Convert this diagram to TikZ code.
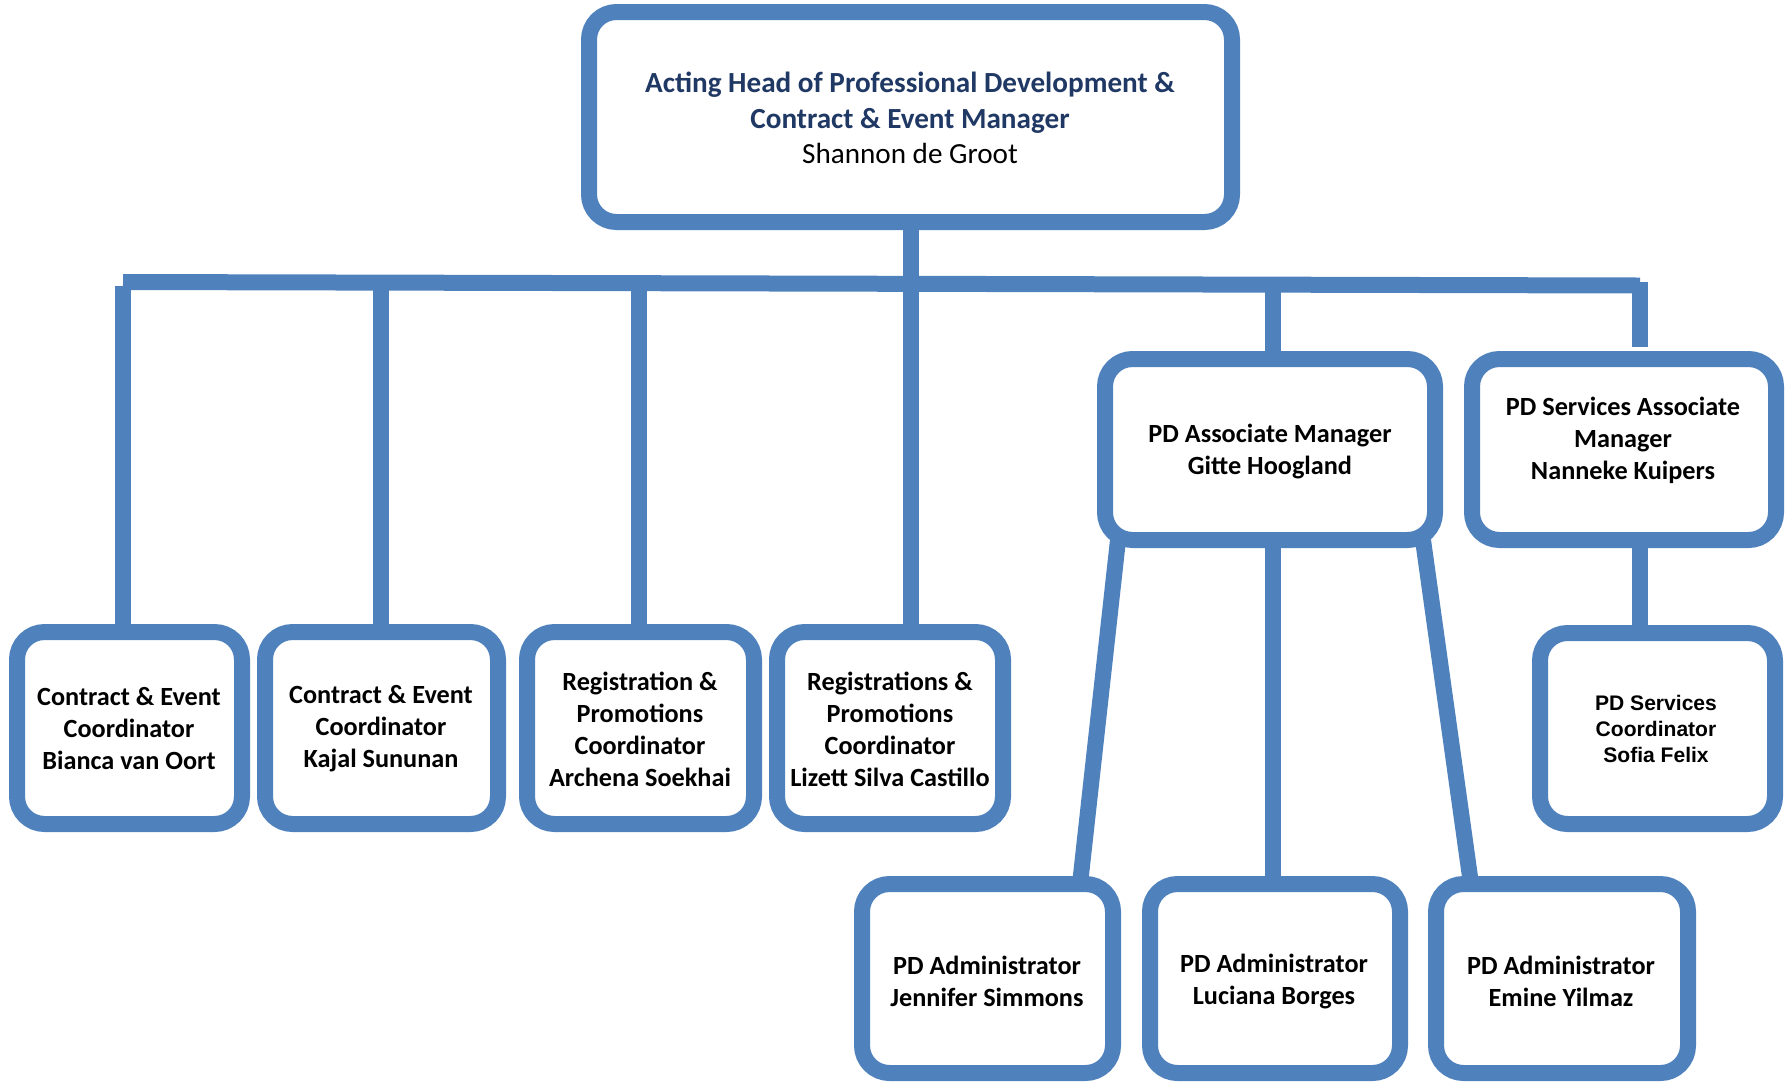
\documentclass[tikz,border=0pt]{standalone}
\usepackage{fontspec}
\setmainfont{Carlito}
\newfontfamily\arialfont{Liberation Sans}
\usetikzlibrary{fit,calc}
\definecolor{boxblue}{RGB}{79,129,189}
\definecolor{titleblue}{RGB}{31,56,100}
\pgfdeclarelayer{bg}
\pgfsetlayers{bg,main}
\begin{document}
\begin{tikzpicture}[x=0.4pt,y=-0.4pt,
  box/.style={draw=boxblue, line width=6.4pt, rounded corners=11pt, fill=white,
    inner sep=0pt, outer sep=0pt},
  txt/.style={inner sep=0pt, align=center, text=black,
    font=\bfseries\fontsize{10.5}{12.8}\selectfont},
  link/.style={draw=boxblue, line width=6.4pt}]
\useasboundingbox (0,0) rectangle (1792,1081);

% boxes
\node[box, fit={(589,12)(1232,222)}] (head) {};
\node[box, fit={(1105,359)(1435,540)}] (pdam) {};
\node[box, fit={(1472,359)(1776,540)}] (pdsam) {};
\node[box, fit={(17,632)(242,824)}] (bia) {};
\node[box, fit={(265,632)(498,824)}] (kaj) {};
\node[box, fit={(527,632)(754,824)}] (arc) {};
\node[box, fit={(777,632)(1003,824)}] (liz) {};
\node[box, fit={(1540,633)(1775,824)}] (sof) {};
\node[box, fit={(862,884)(1113,1073)}] (jen) {};
\node[box, fit={(1150,884)(1400,1073)}] (luc) {};
\node[box, fit={(1436,884)(1688,1073)}] (emi) {};

% texts
\node[txt, font=\fontsize{11.67}{14.2}\selectfont] (headtext) at (910,118)
  {{\bfseries\color{titleblue}Acting Head of Professional Development \&}\\
   {\bfseries\color{titleblue}Contract \& Event Manager}\\
   Shannon de Groot};
\node[txt] (pdamtext) at (1270,452) {PD Associate Manager\\Gitte Hoogland};
\node[txt] (pdsamtext) at (1623,440.5) {PD Services Associate\\Manager\\Nanneke Kuipers};
\node[txt] (biatext) at (129,729) {Contract \& Event\\Coordinator\\Bianca van Oort};
\node[txt] (kajtext) at (381,729) {Contract \& Event\\Coordinator\\Kajal Sununan};
\node[txt] (arctext) at (640,729) {Registration \&\\Promotions\\Coordinator\\Archena Soekhai};
\node[txt] (liztext) at (890,729) {Registrations \&\\Promotions\\Coordinator\\Lizett Silva Castillo};
\node[txt, font=\arialfont\bfseries\fontsize{8.43}{10.3}\selectfont] (softext) at (1656,729)
  {PD Services\\Coordinator\\Sofia Felix};
\node[txt] (jentext) at (987,981) {PD Administrator\\Jennifer Simmons};
\node[txt] (luctext) at (1274,981) {PD Administrator\\Luciana Borges};
\node[txt] (emitext) at (1561,981) {PD Administrator\\Emine Yilmaz};

% bus coordinates
\coordinate (busL) at (123,282);
\coordinate (busR) at (1640,285.5);
\coordinate (j1) at (123,286);
\coordinate (j2) at (380.6,282.6);
\coordinate (j3) at (639,283.2);
\coordinate (j5) at (1273,284.7);
\coordinate (j6) at (1640,282);
\coordinate (j6end) at (1640,347);

\begin{pgfonlayer}{bg}
  \draw[link] (busL) -- (busR);
  \draw[link] (head.south) -- (head.south |- liz.north);
  \draw[link] (j1) -- (j1 |- bia.north);
  \draw[link] (j2) -- (j2 |- kaj.north);
  \draw[link] (j3) -- (j3 |- arc.north);
  \draw[link] (j5) -- (j5 |- pdam.north);
  \draw[link] (j6) -- (j6end);
  \draw[link] (j6 |- pdsam.south) -- (j6 |- sof.north);
  \draw[link] ($(pdam.south west)+(13,0)$) -- ($(jen.north east)+(-33,0)$);
  \draw[link] (j5 |- pdam.south) -- (j5 |- luc.north);
  \draw[link] ($(pdam.south east)+(-12,0)$) -- ($(emi.north west)+(35,0)$);
\end{pgfonlayer}
\end{tikzpicture}
\end{document}
